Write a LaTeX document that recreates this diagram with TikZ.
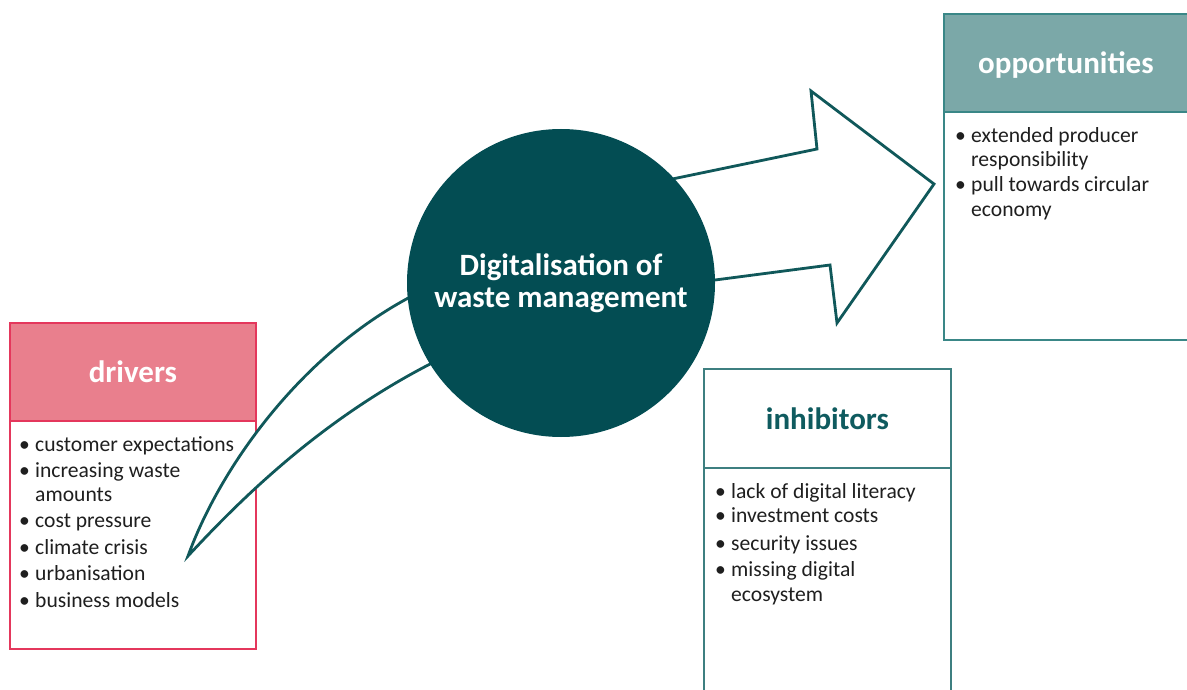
\documentclass[tikz,border=0pt]{standalone}
\usepackage{fontspec}
\setmainfont{Carlito}
\definecolor{circfill}{HTML}{034D53}
\definecolor{arrowline}{HTML}{10585A}
\definecolor{drvborder}{HTML}{E4375C}
\definecolor{drvhead}{HTML}{E97F8D}
\definecolor{oppborder}{HTML}{3A8787}
\definecolor{opphead}{HTML}{7BA8A8}
\definecolor{inhborder}{HTML}{3E7F80}
\definecolor{inhtitle}{HTML}{0F5B5F}
\definecolor{bodytext}{HTML}{1F1F1F}
\newcommand\bitem[1]{\makebox[16pt][l]{•}#1}
\newcommand\bcont[1]{\hspace*{16pt}#1}
\begin{document}
\begin{tikzpicture}[x=1pt,y=-1pt,
  boxpart/.style={draw, line width=1.8pt, anchor=north west, inner sep=0pt, minimum width=#1},
  titletext/.style={font=\bfseries\fontsize{31}{34}\selectfont, text height=26pt, text depth=4pt},
  bodylist/.style={anchor=north west, inner sep=0pt, align=left, text=bodytext, font=\fontsize{21.6}{24.5}\selectfont},
  flowline/.style={draw=arrowline, line width=2.8pt, line join=miter, fill=white}]
\useasboundingbox (0,0) rectangle (1187,690);

% drivers
\node[boxpart=246pt, draw=drvborder, fill=drvhead, minimum height=98pt, text=white, titletext] (drvhead) at (9,322) {drivers};
\node[boxpart=246pt, draw=drvborder, fill=white, minimum height=228pt] (drvbody) at (9,420) {};
\node[bodylist] (drvlist) at (19,436) {\bitem{customer expectations}\\[1.5pt]
\bitem{increasing waste}\\
\bcont{amounts}\\[1.5pt]
\bitem{cost pressure}\\[2.5pt]
\bitem{climate crisis}\\[1.5pt]
\bitem{urbanisation}\\[2pt]
\bitem{business models}};

% opportunities
\node[boxpart=250pt, draw=oppborder, fill=opphead, minimum height=98pt, text=white, titletext] (opphead) at (943,13) {\hspace*{-6pt}opportunities};
\node[boxpart=250pt, draw=oppborder, fill=white, minimum height=228pt] (oppbody) at (943,111) {};
\node[bodylist] (opplist) at (955,127) {\bitem{extended producer}\\
\bcont{responsibility}\\[0.5pt]
\bitem{pull towards circular}\\
\bcont{economy}};

% inhibitors
\node[boxpart=247pt, draw=inhborder, fill=white, minimum height=99pt, text=inhtitle, titletext] (inhhead) at (703,368) {inhibitors};
\node[boxpart=247pt, draw=inhborder, fill=white, minimum height=240pt] (inhbody) at (703,467) {};
\node[bodylist] (inhlist) at (715,483) {\bitem{lack of digital literacy}\\
\bitem{investment costs}\\[3pt]
\bitem{security issues}\\[2pt]
\bitem{missing digital}\\
\bcont{ecosystem}};

% tail from drivers
\coordinate (tail) at (188,556);
\coordinate (tupper) at (412,296);
\coordinate (tlower) at (434,362);
\path[flowline] (tail) .. controls (220,468) and (300,355) .. (tupper)
  -- (tlower) .. controls (320,420) and (240,500) .. (tail) -- cycle;

% big arrow
\coordinate (aup) at (600,194);
\coordinate (n1) at (817,149);
\coordinate (n2) at (811,91);
\coordinate (tip) at (934,184);
\coordinate (n3) at (837,323);
\coordinate (n4) at (830,265);
\coordinate (alow) at (600,295);
\path[flowline] (aup) -- (n1) -- (n2) -- (tip) -- (n3) -- (n4) -- (alow) -- cycle;

% circle
\node[circle, fill=circfill, minimum size=308pt, inner sep=0pt, text=white, align=center,
  font=\bfseries\fontsize{31}{32}\selectfont] (core) at (561,283) {Digitalisation of\\waste management};
\end{tikzpicture}
\end{document}
